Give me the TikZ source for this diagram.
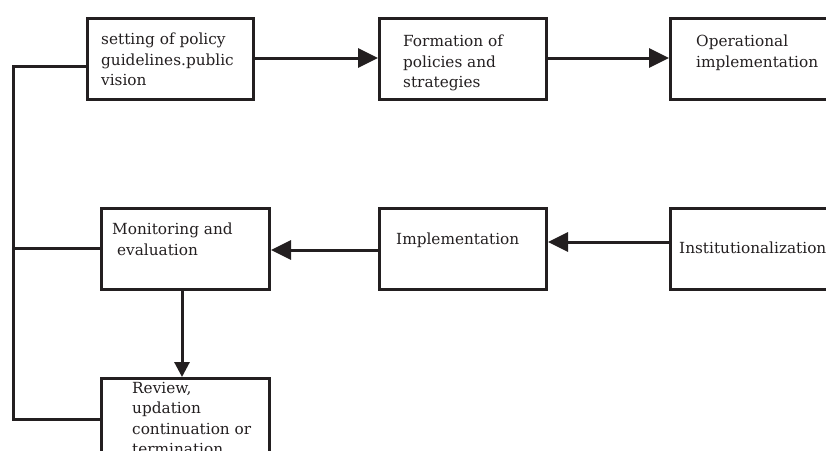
\documentclass[tikz,border=0pt]{standalone}
\usepackage{fontspec}
\setmainfont{DejaVu Serif}
\usetikzlibrary{arrows.meta}
\definecolor{ink}{HTML}{231F20}
\begin{document}
\begin{tikzpicture}[x=1pt,y=-1pt,
  stagebox/.style={draw=ink,line width=3pt,rectangle,inner sep=0pt,anchor=north west},
  stagetext/.style={anchor=north west,inner sep=0pt,align=left,text=ink,
    font=\fontsize{15.3}{20.5}\selectfont},
  link/.style={draw=ink,line width=3pt},
  harrow/.style={link,-{Triangle[length=20pt,width=19pt]}},
  varrow/.style={link,-{Triangle[length=15pt,width=15pt]}}]
\useasboundingbox (0,0) rectangle (826,450);
\clip (0,0) rectangle (826,450);
% boxes of the top row
\node[stagebox,minimum width=166pt,minimum height=81pt] (guide) at (86,17) {};
\node[stagebox,minimum width=167pt,minimum height=81pt] (form) at (378,17) {};
\node[stagebox,minimum width=200pt,minimum height=81pt] (oper) at (669,17) {};
% boxes of the middle row
\node[stagebox,minimum width=168pt,minimum height=81pt] (monit) at (100,207) {};
\node[stagebox,minimum width=167pt,minimum height=81pt] (impl) at (378,207) {};
\node[stagebox,minimum width=200pt,minimum height=81pt] (inst) at (669,207) {};
% box of the bottom row
\node[stagebox,minimum width=168pt,minimum height=120pt] (review) at (100,377) {};
% texts
\node[stagetext] (tguide) at (101,33) {setting of policy\\guidelines.public\\vision};
\node[stagetext] (tform) at (403,35) {Formation of\\policies and\\strategies};
\node[stagetext] (toper) at (696,35) {Operational\\implementation};
\node[stagetext] (tmonit) at (112,223) {Monitoring and\\\ evaluation};
\node[stagetext] (timpl) at (396,233) {Implementation};
\node[stagetext] (tinst) at (679,242) {Institutionalization};
\node[stagetext] (treview) at (132,382) {Review,\\updation\\continuation or\\termination};
% connectors
\draw[harrow] (guide.east |- 0,58) -- (form.west |- 0,58);
\draw[harrow] (form.east |- 0,58) -- (oper.west |- 0,58);
\draw[harrow] (inst.west |- 0,242) -- (impl.east |- 0,242);
\draw[harrow] (impl.west |- 0,250) -- (monit.east |- 0,250);
\draw[varrow] (monit.south -| 182,0) -- (review.north -| 182,0);
\coordinate (loopTop) at (13,66);
\coordinate (loopMid) at (13,248);
\coordinate (loopBot) at (13,419);
\draw[link] (guide.west |- loopTop) -- (loopTop) -- (loopBot) -- (review.west |- loopBot);
\draw[link] (loopMid) -- (monit.west |- loopMid);
\end{tikzpicture}
\end{document}
